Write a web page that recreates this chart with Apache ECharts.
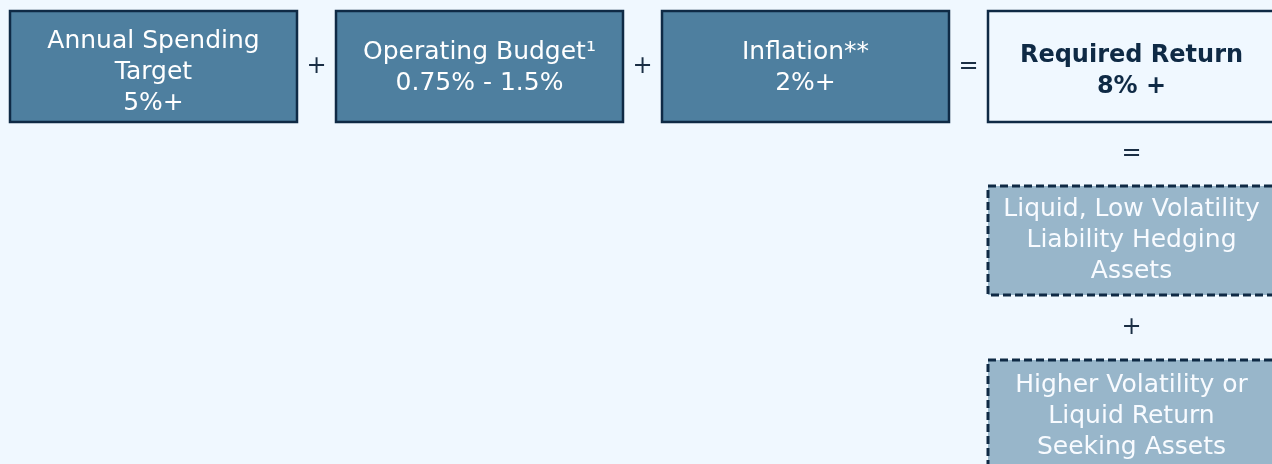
<!DOCTYPE html>
<html>
<head>
<meta charset="utf-8">
<script src="https://cdn.jsdelivr.net/npm/echarts@6/dist/echarts.min.js"></script>
<style>
  html, body { margin: 0; padding: 0; background: #f0f8ff; }
  #chart { width: 1272px; height: 464px; }
</style>
</head>
<body>
<div id="chart"></div>
<script>
// boxes of the return equation
const boxTitles = ['Annual Spending\nTarget', 'Operating Budget¹', 'Inflation**', 'Required Return',
  'Liquid, Low Volatility\nLiability Hedging\nAssets', 'Higher Volatility or\nLiquid Return\nSeeking Assets']
const boxValues = ['5%+', '0.75% - 1.5%', '2%+', '8% +', '', '']
const boxCols = [0, 1, 2, 3, 3, 3]
const boxRows = [0, 0, 0, 0, 1, 2]
const boxKinds = ['input', 'input', 'input', 'result', 'asset', 'asset']

// operators sitting between boxes
const opSymbols = ['+', '+', '=', '=', '+']
const opCols = [0.5, 1.5, 2.5, 3, 3]
const opRows = [0, 0, 0, 0.5, 1.5]

const navy = '#0f2a45'
const kindStyle = {
  input: { fill: '#4e7f9f', text: '#ffffff', weight: 400, size: 25, dash: null, lw: 2.5 },
  result: { fill: '#f0f8ff', text: navy, weight: 'bold', size: 24, dash: null, lw: 2.5 },
  asset: { fill: '#98b6ca', text: '#f8fbff', weight: 400, size: 25, dash: [8, 4], lw: 3 }
}
// small vertical nudges of the text inside each box
const textShift = [6, 1, 1, 5, 0, 1.5]
const font = '"DejaVu Sans", "Open Sans", sans-serif'

const chart = echarts.init(document.getElementById('chart'))

chart.setOption({
  backgroundColor: '#f0f8ff',
  animation: false,
  grid: { left: 153.5, right: 140.5, top: 66.5, bottom: 49.5 },
  xAxis: { type: 'value', min: 0, max: 3, show: false },
  yAxis: { type: 'value', min: 0, max: 2, inverse: true, show: false },
  series: [
    {
      type: 'custom',
      clip: false,
      data: boxCols.map((c, i) => [c, boxRows[i]]),
      renderItem(params, api) {
        const i = params.dataIndex
        const p = api.coord([api.value(0), api.value(1)])
        const st = kindStyle[boxKinds[i]]
        const w = 287
        const h = boxRows[i] === 0 ? 111 : 109
        const txt = boxValues[i] ? boxTitles[i] + '\n' + boxValues[i] : boxTitles[i]
        return {
          type: 'group',
          children: [
            {
              type: 'rect',
              shape: { x: p[0] - w / 2, y: p[1] - h / 2, width: w, height: h },
              style: { fill: st.fill, stroke: navy, lineWidth: st.lw, lineDash: st.dash }
            },
            {
              type: 'text',
              x: p[0],
              y: p[1] + textShift[i],
              style: {
                text: txt,
                fill: st.text,
                fontSize: st.size,
                fontWeight: st.weight,
                fontFamily: font,
                lineHeight: 31,
                align: 'center',
                verticalAlign: 'middle'
              }
            }
          ]
        }
      }
    },
    {
      type: 'custom',
      clip: false,
      data: opCols.map((c, i) => [c, opRows[i]]),
      renderItem(params, api) {
        const p = api.coord([api.value(0), api.value(1)])
        return {
          type: 'text',
          x: p[0],
          y: p[1],
          style: {
            text: opSymbols[params.dataIndex],
            fill: '#1a2e44',
            fontSize: 24,
            fontFamily: font,
            align: 'center',
            verticalAlign: 'middle'
          }
        }
      }
    }
  ]
})
</script>
</body>
</html>
